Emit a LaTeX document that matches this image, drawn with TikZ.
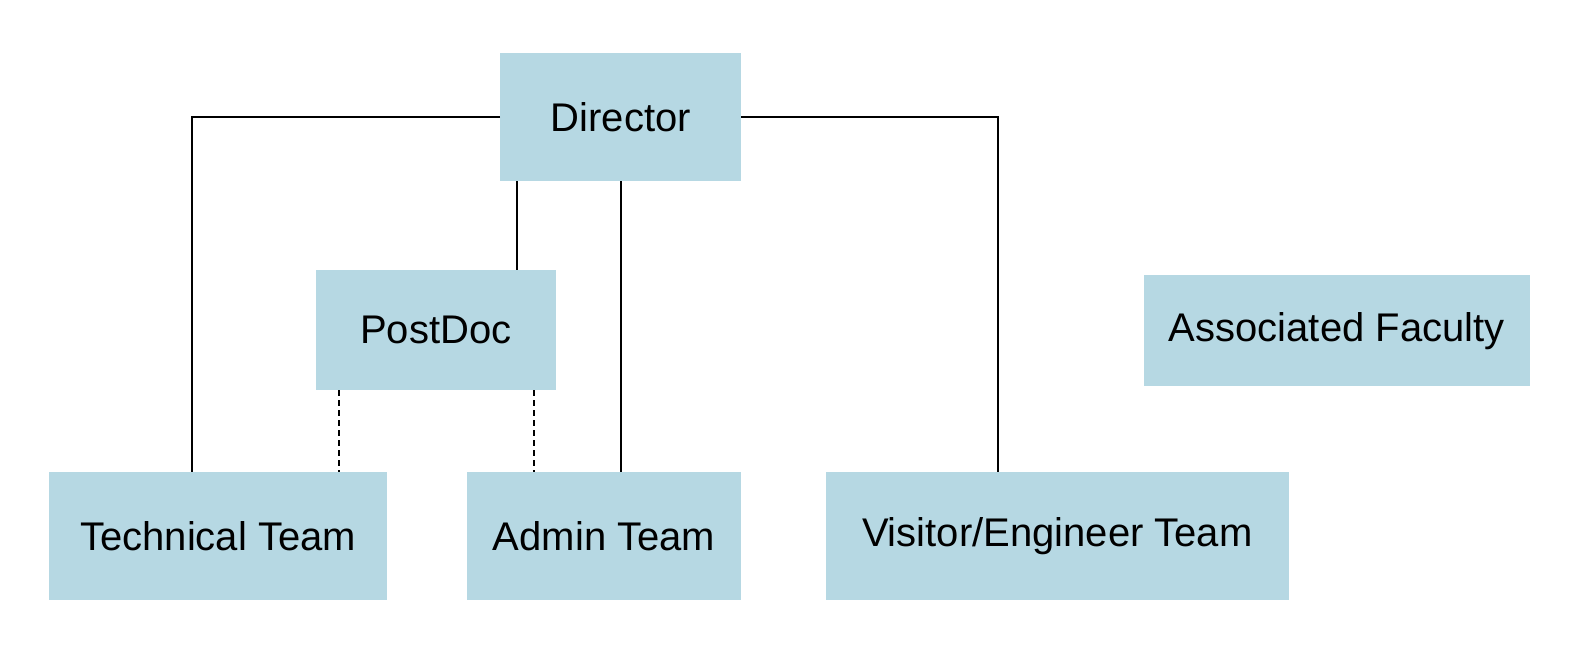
\documentclass[tikz,border=0pt]{standalone}
\usepackage{fontspec}
\setmainfont{Liberation Sans}
\usetikzlibrary{positioning}
\definecolor{boxblue}{RGB}{182,216,227}
\tikzset{
  unit/.style={fill=boxblue, inner sep=0pt, font=\fontsize{20}{24}\selectfont},
  link/.style={line width=1pt},
  weaklink/.style={line width=1pt, dash pattern=on 3pt off 2pt}
}

\begin{document}
\begin{tikzpicture}[x=0.5pt, y=-0.5pt]
  \useasboundingbox (0,0) rectangle (1576,646);
  \node [unit, minimum width=120.25pt, minimum height=63.9pt] (dir) at (620.7,117.2) {Director};
  \node [unit, minimum width=120.1pt, minimum height=60pt] (post) at (435.7,330) {PostDoc};
  \node [unit, minimum width=193pt, minimum height=55.3pt] (fac) at (1336.8,330.7) {Associated Faculty};
  \node [unit, minimum width=168.9pt, minimum height=63.8pt] (tech) at (218.2,536.2) {Technical Team};
  \node [unit, minimum width=136.7pt, minimum height=63.8pt] (adm) at (604.1,536.2) {Admin Team};
  \node [unit, minimum width=231.3pt, minimum height=63.8pt] (vis) at (1057.3,536.2) {Visitor/Engineer Team};
  % solid lines from the director
  \draw [link] (dir.west) -| ([xshift=-13pt]tech.north);
  \draw [link] (dir.east) -| ([xshift=-29.65pt]vis.north);
  \draw [link] ([xshift=8.55pt]dir.south west) coordinate (dp)
  -- (dp |- post.north);
  \draw [link] (dir.south) -- (dir.south |- adm.north);
  % dashed lines from the postdoc
  \draw [weaklink] ([xshift=12pt]post.south west) coordinate (pt)
  -- (pt |- tech.north);
  \draw [weaklink] ([xshift=-11pt]post.south east) coordinate (pa)
  -- (pa |- adm.north);
\end{tikzpicture}
\end{document}
